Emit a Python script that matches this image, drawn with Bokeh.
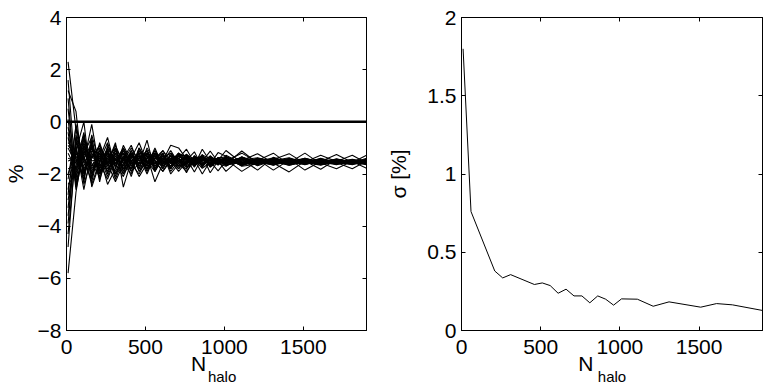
import math
from bokeh.plotting import figure
from bokeh.models import Range1d, FixedTicker, LinearAxis, CustomJSTickFormatter, Span
from bokeh.layouts import row
from bokeh.embed import file_html
from bokeh.resources import INLINE

# ---------------- data ----------------
# N_halo sampling used for the left panel (one value per realisation in each array below)
n_halo = [10, 60, 110, 160, 210, 260, 310, 360, 410, 460, 510, 560, 610, 660, 710,
          760, 810, 860, 910, 960, 1010, 1110, 1210, 1310, 1410, 1510, 1610, 1710, 1810, 1900]

# percentage deviation of each realisation at each N_halo
pct_n0010 = [2.3, -5.8, 1.2, -4.3, 0.5, -3.6, -0.2, -3.0, 0.9, -2.6, -1.0, -2.2, -0.6, -1.5, -3.9, 0.1, -2.0, -1.2, -4.8, 1.6, -0.9, -2.8, -1.8, -0.4, -3.3, -1.4, -2.4, -0.8]
pct_n0060 = [-0.3, -2.7, 0.4, -1.1, -2.3, -0.7, -1.9, -1.2, -2.5, -0.9, -1.6, -0.2, -2.1, -1.4, -0.5, -2.6, -1.0, -1.8, -0.8, -2.2, -1.3, -0.1, -1.7, -2.4, -0.6, -1.5, -2.0, -1.1]
pct_n0110 = [-1.9, -0.9, -2.4, 0.0, -1.2, -2.0, -0.6, -1.7, -1.0, -2.6, -0.4, -1.5, -0.8, -2.2, -1.8, -1.1, -2.3, -0.7, -1.4, -0.9, -2.1, -1.6, -0.5, -1.2, -2.0, -1.3, -0.6, -1.9]
pct_n0160 = [-1.0, -2.1, -1.4, -2.5, -0.6, -1.3, -2.0, -0.9, -1.7, -1.1, -2.2, -0.1, -1.8, -0.8, -1.2, -1.9, -0.5, -1.6, -2.3, -1.5, -0.9, -1.0, -2.0, -1.7, -0.7, -2.4, -1.4, -1.3]
pct_n0210 = [-1.8, -1.2, -0.9, -1.6, -2.2, -1.0, -1.4, -2.0, -1.1, -1.5, -0.8, -1.9, -1.3, -2.3, -1.7, -1.2, -1.6, -2.1, -1.0, -1.4, -1.8, -2.0, -1.1, -1.3, -1.9, -1.5, -0.9, -1.7]
pct_n0260 = [-1.2, -1.9, -1.6, -1.0, -1.3, -2.0, -0.6, -1.5, -1.8, -1.1, -1.7, -1.4, -2.1, -0.9, -1.2, -1.6, -2.2, -1.0, -1.5, -1.9, -1.3, -1.1, -1.7, -2.4, -1.4, -0.8, -1.6, -1.2]
pct_n0310 = [-1.6, -1.3, -1.1, -2.0, -1.5, -1.2, -1.8, -0.9, -1.4, -2.1, -1.0, -1.7, -1.3, -1.6, -2.2, -0.8, -1.4, -1.5, -1.9, -1.1, -1.6, -2.0, -1.2, -1.8, -1.0, -1.7, -2.3, -1.4]
pct_n0360 = [-1.1, -1.7, -1.8, -1.4, -1.2, -1.9, -1.0, -1.6, -2.0, -1.3, -1.5, -1.1, -1.8, -1.2, -1.4, -2.5, -1.7, -1.0, -1.3, -1.6, -2.1, -1.4, -1.5, -0.9, -1.9, -1.2, -1.6, -2.0]
pct_n0410 = [-1.7, -1.2, -1.3, -1.9, -1.6, -1.1, -1.5, -2.0, -1.2, -1.8, -1.0, -1.6, -1.4, -1.9, -1.3, -1.5, -1.1, -1.7, -2.1, -1.2, -1.4, -0.9, -1.8, -1.5, -1.3, -1.6, -1.2, -1.5]
pct_n0460 = [-1.3, -1.9, -1.6, -1.0, -1.2, -1.7, -1.4, -1.1, -1.8, -1.3, -1.5, -2.0, -0.8, -1.6, -1.7, -1.2, -1.9, -1.4, -1.1, -1.6, -1.3, -1.7, -1.0, -2.1, -1.5, -1.3, -1.8, -1.2]
pct_n0510 = [-1.8, -1.3, -1.1, -1.6, -1.9, -1.2, -1.7, -1.5, -1.0, -1.8, -1.2, -1.4, -1.6, -0.7, -1.3, -1.9, -1.5, -1.1, -1.7, -1.4, -2.0, -1.2, -1.5, -1.6, -1.1, -1.8, -1.4, -1.3]
pct_n0560 = [-1.2, -1.7, -1.8, -1.3, -1.4, -1.9, -1.1, -1.6, -1.5, -1.2, -1.8, -1.3, -1.5, -1.9, -2.3, -1.2, -1.4, -1.7, -1.0, -1.6, -1.3, -1.5, -1.9, -1.1, -1.6, -1.4, -1.2, -1.7]
pct_n0610 = [-1.6, -1.2, -1.4, -1.8, -1.5, -1.3, -1.7, -1.2, -1.9, -1.5, -1.3, -1.6, -1.1, -1.4, -1.6, -1.8, -1.2, -1.5, -1.7, -1.3, -1.4, -1.9, -1.2, -1.6, -1.5, -1.1, -1.7, -1.4]
pct_n0660 = [-1.3, -1.8, -1.6, -1.2, -1.7, -1.5, -1.3, -1.9, -1.4, -1.1, -1.7, -1.4, -1.6, -1.2, -1.5, -1.3, -1.8, -0.9, -1.4, -1.6, -1.2, -1.5, -2.0, -1.3, -1.7, -1.5, -1.4, -1.8]
pct_n0710 = [-1.7, -1.4, -1.3, -1.6, -1.4, -1.2, -1.8, -1.5, -1.3, -1.6, -1.4, -1.7, -1.2, -1.5, -1.8, -1.4, -1.3, -1.0, -1.6, -1.5, -1.7, -1.3, -1.6, -1.4, -1.2, -1.9, -1.5, -1.3]
pct_n0760 = [-1.35, -1.62, -1.58, -1.24, -1.95, -1.45, -1.30, -1.82, -1.52, -1.40, -1.05, -1.55, -1.68, -1.36, -1.48, -1.75, -1.28, -1.43, -1.90, -1.33, -1.60, -1.47, -1.25, -1.66, -1.38, -1.54, -1.72, -1.41]
pct_n0810 = [-1.55, -1.38, -1.46, -1.63, -1.33, -1.70, -1.52, -1.29, -1.44, -1.92, -1.58, -1.35, -1.49, -1.62, -1.15, -1.54, -1.66, -1.40, -1.50, -1.74, -1.36, -1.59, -1.45, -1.31, -1.68, -1.42, -1.53, -1.60]
pct_n0860 = [-1.30, -1.72, -1.35, -1.50, -1.62, -1.25, -1.44, -1.68, -2.00, -1.38, -1.27, -1.60, -1.32, -1.47, -1.75, -1.40, -1.05, -1.56, -1.42, -1.29, -1.66, -1.35, -1.78, -1.52, -1.45, -1.30, -1.62, -1.48]
pct_n0910 = [-1.62, -1.40, -1.58, -1.32, -1.45, -1.70, -1.55, -1.38, -1.50, -1.64, -1.42, -1.35, -1.74, -1.58, -1.30, -1.66, -1.52, -1.44, -1.61, -1.95, -1.36, -1.48, -1.56, -1.12, -1.60, -1.72, -1.38, -1.46]
pct_n0960 = [-1.45, -1.58, -1.42, -1.60, -1.52, -1.36, -1.48, -1.62, -1.40, -1.55, -1.66, -1.46, -1.50, -1.38, -1.57, -1.44, -1.88, -1.53, -1.18, -1.49, -1.60, -1.65, -1.42, -1.54, -1.47, -1.39, -1.56, -1.51]
pct_n1010 = [-1.58, -1.35, -1.48, -1.70, -1.40, -1.62, -1.10, -1.52, -1.66, -1.44, -1.28, -1.56, -1.90, -1.42, -1.36, -1.60, -1.50, -1.65, -1.32, -1.46, -1.54, -1.38, -1.68, -1.45, -1.58, -1.34, -1.49, -1.62]
pct_n1110 = [-1.40, -1.62, -1.55, -1.34, -1.68, -1.46, -1.58, -1.38, -1.50, -1.90, -1.60, -1.42, -1.35, -1.64, -1.52, -1.48, -1.20, -1.56, -1.70, -1.62, -1.44, -1.58, -1.40, -1.66, -1.36, -1.54, -1.60, -1.12]
pct_n1210 = [-1.55, -1.46, -1.42, -1.62, -1.50, -1.38, -1.64, -1.56, -1.44, -1.52, -1.40, -1.68, -1.58, -1.48, -1.60, -1.22, -1.54, -1.45, -1.62, -1.50, -1.85, -1.42, -1.56, -1.48, -1.52, -1.64, -1.40, -1.58]
pct_n1310 = [-1.42, -1.60, -1.56, -1.40, -1.65, -1.52, -1.44, -1.58, -1.85, -1.38, -1.55, -1.48, -1.62, -1.20, -1.50, -1.58, -1.46, -1.64, -1.42, -1.54, -1.36, -1.60, -1.50, -1.44, -1.66, -1.48, -1.56, -1.52]
pct_n1410 = [-1.58, -1.44, -1.48, -1.60, -1.52, -1.66, -1.22, -1.54, -1.46, -1.62, -1.50, -1.38, -1.56, -1.64, -1.44, -1.92, -1.58, -1.48, -1.60, -1.42, -1.55, -1.50, -1.66, -1.56, -1.46, -1.58, -1.40, -1.62]
pct_n1510 = [-1.48, -1.56, -1.62, -1.44, -1.40, -1.54, -1.60, -1.46, -1.52, -1.50, -1.64, -1.56, -1.42, -1.48, -1.58, -1.50, -1.20, -1.60, -1.54, -1.85, -1.46, -1.44, -1.52, -1.62, -1.56, -1.40, -1.58, -1.50]
pct_n1610 = [-1.56, -1.45, -1.50, -1.62, -1.56, -1.42, -1.52, -1.64, -1.44, -1.58, -1.48, -1.66, -1.54, -1.60, -1.40, -1.55, -1.62, -1.46, -1.28, -1.52, -1.58, -1.60, -1.44, -1.50, -1.62, -1.54, -1.46, -1.82]
pct_n1710 = [-1.50, -1.58, -1.46, -1.52, -1.60, -1.54, -1.44, -1.56, -1.62, -1.48, -1.54, -1.50, -1.64, -1.42, -1.56, -1.60, -1.48, -1.58, -1.52, -1.25, -1.80, -1.50, -1.56, -1.62, -1.46, -1.58, -1.52, -1.44]
pct_n1810 = [-1.54, -1.50, -1.58, -1.46, -1.52, -1.62, -1.56, -1.48, -1.54, -1.60, -1.44, -1.58, -1.50, -1.56, -1.80, -1.48, -1.52, -1.62, -1.28, -1.56, -1.50, -1.54, -1.60, -1.46, -1.58, -1.50, -1.64, -1.52]
pct_n1900 = [-1.48, -1.56, -1.52, -1.60, -1.44, -1.54, -1.50, -1.62, -1.46, -1.58, -1.52, -1.40, -1.56, -1.64, -1.50, -1.54, -1.78, -1.48, -1.58, -1.28, -1.52, -1.60, -1.46, -1.56, -1.54, -1.62, -1.50, -1.58]

zero_level = 0.0

# right panel: scatter (sigma) of the realisations vs N_halo
sigma_n = [10, 60, 210, 260, 310, 460, 510, 560, 610, 660, 710, 760, 810, 860, 910, 960,
           1010, 1110, 1210, 1310, 1510, 1610, 1710, 1900]
sigma_pct = [1.80, 0.76, 0.38, 0.336, 0.357, 0.294, 0.304, 0.287, 0.238, 0.264, 0.221, 0.221,
             0.177, 0.221, 0.200, 0.162, 0.202, 0.200, 0.155, 0.183, 0.149, 0.172, 0.164, 0.128]

x_ticks = [0, 500, 1000, 1500]
left_y_ticks = [-8, -6, -4, -2, 0, 2, 4]
right_y_ticks = [0, 0.5, 1, 1.5, 2]

# ---------------- build ----------------
columns = [pct_n0010, pct_n0060, pct_n0110, pct_n0160, pct_n0210, pct_n0260, pct_n0310,
           pct_n0360, pct_n0410, pct_n0460, pct_n0510, pct_n0560, pct_n0610, pct_n0660,
           pct_n0710, pct_n0760, pct_n0810, pct_n0860, pct_n0910, pct_n0960, pct_n1010,
           pct_n1110, pct_n1210, pct_n1310, pct_n1410, pct_n1510, pct_n1610, pct_n1710,
           pct_n1810, pct_n1900]
n_runs = min(len(c) for c in columns)
runs_y = [[col[j] for col in columns] for j in range(n_runs)]
runs_x = [list(n_halo) for _ in range(n_runs)]

FONT = "Liberation Sans"
FS = "21px"
H = 388
TOP = 17
FRAME_H = 313
X_RANGE = (0, 1900)

fmt_js = CustomJSTickFormatter(code="""
var s = (Math.round(tick * 100) / 100).toString();
return s.replace('-', '\u2212');
""")


def blank_axis(ticks):
    ax = LinearAxis(ticker=FixedTicker(ticks=ticks),
                    formatter=CustomJSTickFormatter(code="return '';"))
    ax.major_tick_in = 4
    ax.major_tick_out = 0
    ax.minor_tick_line_color = None
    ax.major_label_standoff = 0
    ax.major_label_text_font_size = "0px"
    ax.axis_line_color = "black"
    ax.major_tick_line_color = "black"
    return ax


def style_label(ax, text, size, standoff):
    ax.axis_label = text
    ax.axis_label_text_font = FONT
    ax.axis_label_text_font_size = size
    ax.axis_label_text_font_style = "normal"
    ax.axis_label_text_color = "black"
    ax.axis_label_standoff = standoff


def make_fig(width, bl, br, yr, yticks, ylabel, ylabel_standoff, n_text, sub_text):
    p = figure(width=width, height=H, output_backend="svg", toolbar_location=None,
               x_range=Range1d(*X_RANGE), y_range=Range1d(*yr),
               min_border_left=bl, min_border_right=br, min_border_top=TOP,
               min_border_bottom=H - TOP - FRAME_H)
    p.xgrid.visible = False
    p.ygrid.visible = False
    p.outline_line_color = "black"
    p.outline_line_width = 1
    p.background_fill_color = "white"
    p.border_fill_color = "white"
    for ax, tk, standoff in ((p.xaxis[0], x_ticks, 9), (p.yaxis[0], yticks, 5)):
        ax.ticker = FixedTicker(ticks=tk)
        ax.formatter = fmt_js
        ax.major_tick_in = 4
        ax.major_tick_out = 0
        ax.minor_tick_line_color = None
        ax.axis_line_color = "black"
        ax.major_tick_line_color = "black"
        ax.major_label_text_font = FONT
        ax.major_label_text_font_size = FS
        ax.major_label_text_color = "black"
        ax.major_label_standoff = standoff
    style_label(p.yaxis[0], ylabel, FS, ylabel_standoff)
    # x label: "N" on the main axis, subscript "halo" on a bare axis stacked below it
    style_label(p.xaxis[0], n_text, FS, -5)
    sub = LinearAxis(ticker=FixedTicker(ticks=[]),
                     formatter=CustomJSTickFormatter(code="return '';"))
    sub.axis_line_color = None
    sub.major_tick_line_color = None
    sub.minor_tick_line_color = None
    sub.major_label_standoff = 0
    sub.major_label_text_font_size = "0px"
    style_label(sub, sub_text, "15px", -10)
    p.add_layout(sub, "below")
    p.add_layout(blank_axis(x_ticks), "above")
    p.add_layout(blank_axis(yticks), "right")
    return p


# left panel: frame 64..366 px
LW = 302
p1 = make_fig(384, 64, 384 - 64 - LW, (-8, 4), left_y_ticks, "%", 8,
              "N\u2003\u2002\u2009", "\u2002\u2005halo")
p1.multi_line(xs=runs_x, ys=runs_y, line_color="black", line_width=1.1)
p1.add_layout(Span(location=zero_level, dimension="width", line_color="black", line_width=2.5))

# right panel: frame 461..762 px
RW = 301
p2 = make_fig(384, 77, 384 - 77 - RW, (0, 2), right_y_ticks, "σ [%]", 14,
              "N\u2003\u2003\u2002", "halo")
p2.line(sigma_n, sigma_pct, line_color="black", line_width=1)

layout = row(p1, p2)
open("out.html", "w").write(file_html(layout, INLINE))
